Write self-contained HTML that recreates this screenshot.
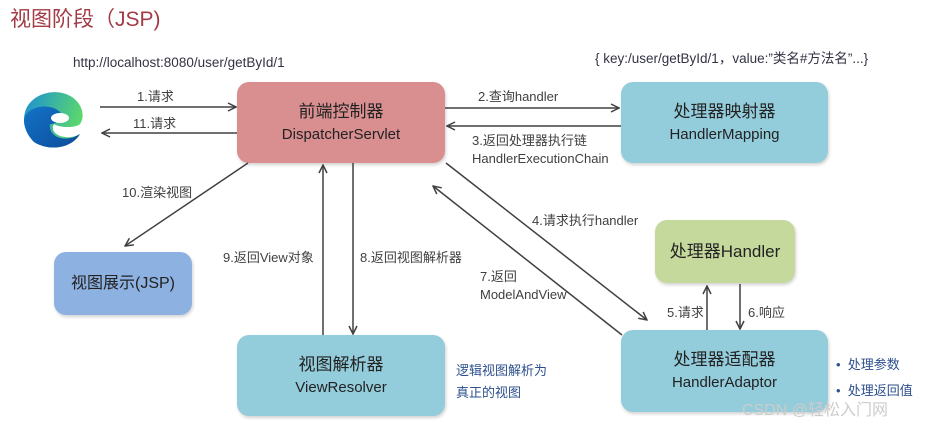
<!DOCTYPE html>
<html><head><meta charset="utf-8"><style>
body{margin:0;width:928px;height:426px;background:#fff;position:relative;overflow:hidden;font-family:"Liberation Sans","Noto Sans CJK SC",sans-serif;color:#404040}
.t{position:absolute;white-space:nowrap;font-size:13px}
.box{position:absolute;border-radius:12px;display:flex;flex-direction:column;align-items:center;justify-content:center;color:#222;box-shadow:1px 2px 3px rgba(0,0,0,.18);line-height:23px}
.cn{font-size:17px}.en{font-size:15px}
</style></head><body>
<div class="t" style="left:10px;top:3px;font-size:21px;color:#a23b45">视图阶段（JSP)</div>
<div class="t" style="left:73px;top:55px;font-size:13.5px;color:#334">http://localhost:8080/user/getById/1</div>
<div class="t" style="left:595px;top:47px;font-size:13.5px;color:#334">{ key:/user/getById/1，value:”类名#方法名”...}</div>

<svg style="position:absolute;left:20px;top:86px" width="68" height="64" viewBox="0 0 68 64">
<defs><linearGradient id="g1" x1="0" y1="0" x2="1" y2="0.3"><stop offset="0" stop-color="#1a8fd6"/><stop offset="1" stop-color="#5ad66e"/></linearGradient>
<linearGradient id="g2" x1="0" y1="0" x2="1" y2="1"><stop offset="0" stop-color="#1373c8"/><stop offset="1" stop-color="#0d4c9a"/></linearGradient></defs>
<path d="M4 34 C4 10 30 2 46 8 C62 14 66 30 60 38 C56 42 40 42 34 38 C28 48 46 56 60 48 C52 62 30 66 14 56 C8 50 4 42 4 34Z" fill="url(#g1)"/>
<path d="M4 34 C6 20 30 16 40 26 C44 32 38 38 30 38 C28 50 44 58 60 48 C52 62 30 66 14 56 C8 50 4 42 4 34Z" fill="url(#g2)"/>
<ellipse cx="40" cy="32" rx="9" ry="5" fill="#fff"/>
</svg>

<div class="box" style="left:237px;top:82px;width:208px;height:81px;background:#d98e90"><div class="cn">前端控制器</div><div class="en">DispatcherServlet</div></div>
<div class="box" style="left:621px;top:82px;width:207px;height:81px;background:#93ccdb"><div class="cn">处理器映射器</div><div class="en">HandlerMapping</div></div>
<div class="box" style="left:655px;top:220px;width:140px;height:63px;background:#c5d99d"><div class="cn">处理器Handler</div></div>
<div class="box" style="left:621px;top:330px;width:207px;height:82px;background:#93ccdb"><div class="cn">处理器适配器</div><div class="en">HandlerAdaptor</div></div>
<div class="box" style="left:237px;top:335px;width:208px;height:81px;background:#93ccdb"><div class="cn">视图解析器</div><div class="en">ViewResolver</div></div>
<div class="box" style="left:54px;top:252px;width:138px;height:63px;background:#8db1e0"><div class="cn" style="font-size:16px">视图展示(JSP)</div></div>

<svg style="position:absolute;left:0;top:0" width="928" height="426">
<defs><marker id="a" markerWidth="10" markerHeight="10" refX="9" refY="5" orient="auto" markerUnits="userSpaceOnUse"><path d="M1 1 L9 5 L1 9" fill="none" stroke="#404040" stroke-width="1.5"/></marker></defs>
<g stroke="#404040" stroke-width="1.5" fill="none" marker-end="url(#a)">
<line x1="100" y1="107" x2="236" y2="107"/>
<line x1="237" y1="133" x2="102" y2="133"/>
<line x1="445" y1="108" x2="619" y2="108"/>
<line x1="621" y1="126" x2="447" y2="126"/>
<line x1="446" y1="163" x2="647" y2="320"/>
<line x1="622" y1="335" x2="433" y2="186"/>
<line x1="248" y1="163" x2="125" y2="246"/>
<line x1="323" y1="335" x2="323" y2="165"/>
<line x1="353" y1="163" x2="353" y2="334"/>
<line x1="707" y1="330" x2="707" y2="286"/>
<line x1="740" y1="284" x2="740" y2="329"/>
</g></svg>

<div class="t" style="left:137px;top:86px">1.请求</div>
<div class="t" style="left:133px;top:113px">11.请求</div>
<div class="t" style="left:478px;top:86px">2.查询handler</div>
<div class="t" style="left:472px;top:130px">3.返回处理器执行链</div>
<div class="t" style="left:472px;top:151px">HandlerExecutionChain</div>
<div class="t" style="left:532px;top:210px">4.请求执行handler</div>
<div class="t" style="left:480px;top:266px">7.返回</div>
<div class="t" style="left:480px;top:287px">ModelAndView</div>
<div class="t" style="left:122px;top:182px">10.渲染视图</div>
<div class="t" style="left:223px;top:247px">9.返回View对象</div>
<div class="t" style="left:360px;top:247px">8.返回视图解析器</div>
<div class="t" style="left:667px;top:302px">5.请求</div>
<div class="t" style="left:748px;top:302px">6.响应</div>
<div class="t" style="left:456px;top:360px;color:#2d4f8c">逻辑视图解析为</div>
<div class="t" style="left:456px;top:382px;color:#2d4f8c">真正的视图</div>
<div class="t" style="left:836px;top:354px;color:#2d4f8c">•&nbsp; 处理参数</div>
<div class="t" style="left:836px;top:380px;color:#2d4f8c">•&nbsp; 处理返回值</div>
<div class="t" style="left:742px;top:396px;font-size:16px;color:#ccc">CSDN @轻松入门网</div>
</body></html>
